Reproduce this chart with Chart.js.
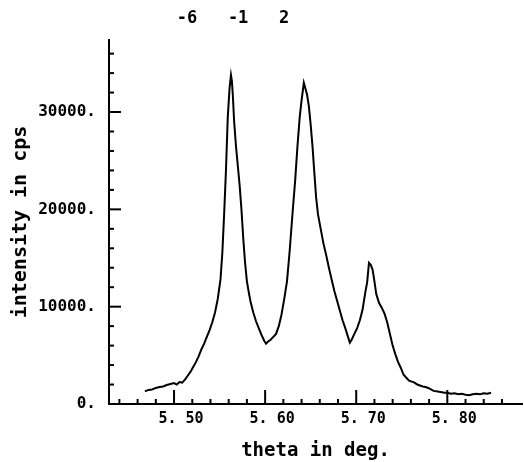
<!DOCTYPE html>
<html>
<head>
<meta charset="utf-8">
<script src="https://cdn.jsdelivr.net/npm/chart.js@4.4.0/dist/chart.umd.min.js"></script>
<style>
	html, body { margin: 0; padding: 0; background: #fff; }
</style>
</head>
<body>
<canvas id="scanChart" width="524" height="462"></canvas>
<script>
var thetaDeg = [5.468, 5.472, 5.476, 5.480, 5.484, 5.488, 5.492, 5.496, 5.500, 5.503, 5.506, 5.509, 5.512, 5.515, 5.518, 5.521, 5.524, 5.527, 5.530, 5.533, 5.536, 5.539, 5.542, 5.545, 5.548, 5.551, 5.553, 5.555, 5.557, 5.559, 5.561, 5.5625, 5.5635, 5.5645, 5.566, 5.568, 5.570, 5.572, 5.574, 5.576, 5.578, 5.580, 5.582, 5.584, 5.587, 5.590, 5.593, 5.596, 5.599, 5.601, 5.603, 5.606, 5.609, 5.612, 5.615, 5.618, 5.621, 5.624, 5.627, 5.630, 5.633, 5.6355, 5.638, 5.640, 5.6425, 5.644, 5.646, 5.648, 5.650, 5.652, 5.654, 5.656, 5.658, 5.661, 5.664, 5.667, 5.670, 5.673, 5.676, 5.679, 5.682, 5.685, 5.688, 5.691, 5.693, 5.695, 5.698, 5.701, 5.704, 5.707, 5.710, 5.712, 5.714, 5.716, 5.718, 5.720, 5.722, 5.725, 5.728, 5.731, 5.734, 5.737, 5.740, 5.743, 5.746, 5.749, 5.752, 5.755, 5.758, 5.761, 5.764, 5.767, 5.770, 5.773, 5.776, 5.779, 5.782, 5.785, 5.788, 5.791, 5.794, 5.797, 5.800, 5.804, 5.808, 5.812, 5.816, 5.820, 5.824, 5.828, 5.832, 5.836, 5.840, 5.844, 5.848];
var intensityCps = [1300, 1450, 1500, 1650, 1750, 1800, 1950, 2050, 2150, 2000, 2250, 2200, 2500, 2900, 3300, 3800, 4300, 4900, 5600, 6200, 6900, 7600, 8400, 9400, 10800, 12800, 15500, 19500, 24000, 29500, 32500, 33800, 33200, 31800, 29000, 26500, 24500, 22500, 20000, 17000, 14500, 12600, 11500, 10500, 9400, 8500, 7800, 7100, 6500, 6200, 6400, 6600, 6900, 7200, 8000, 9200, 10800, 12600, 15800, 19500, 23000, 26500, 29500, 31200, 33000, 32500, 31800, 30600, 28700, 26500, 23800, 21200, 19500, 18000, 16500, 15300, 14000, 12800, 11600, 10600, 9600, 8600, 7800, 6900, 6300, 6600, 7200, 7800, 8600, 9700, 11500, 12500, 14500, 14300, 13800, 12600, 11300, 10400, 9900, 9300, 8400, 7200, 6000, 5100, 4300, 3700, 3000, 2700, 2400, 2300, 2200, 2000, 1900, 1800, 1750, 1650, 1500, 1350, 1300, 1250, 1200, 1150, 1150, 1050, 1100, 1000, 1050, 950, 900, 1000, 1050, 1000, 1100, 1050, 1150];

var xMajorTicks = [5.50, 5.60, 5.70, 5.80];
var yMajorTicks = [0, 10000, 20000, 30000];
var peakLabels = ["-6", "-1", "2"];

var plotFont = "'DejaVu Sans Mono', monospace";

function isMajor(v, majors) {
	for (var i = 0; i < majors.length; i++) {
		if (Math.abs(v - majors[i]) < 1e-6) { return true; }
	}
	return false;
}

// minor tick positions, every 0.02 deg and every 2000 cps
function xTickList() {
	var list = [];
	for (var i = 0; i <= 21; i++) { list.push({ value: Math.round((5.44 + i * 0.02) * 100) / 100 }); }
	return list;
}
function yTickList() {
	var list = [];
	for (var i = 0; i <= 18; i++) { list.push({ value: i * 2000 }); }
	return list;
}

var points = thetaDeg.map(function(t, i) { return { x: t, y: intensityCps[i] }; });

// tick marks point inward like the plotter, plus the peak labels on top
var plotterMarks = {
	id: 'plotterMarks',
	afterDraw: function(chart) {
		var ctx = chart.ctx;
		var area = chart.chartArea;
		var xs = chart.scales.x;
		var ys = chart.scales.y;
		ctx.save();
		ctx.strokeStyle = '#000';
		ctx.lineWidth = 2;
		xs.ticks.forEach(function(t) {
			var px = xs.getPixelForValue(t.value);
			var len = isMajor(t.value, xMajorTicks) ? 14 : 5;
			ctx.beginPath();
			ctx.moveTo(px, area.bottom);
			ctx.lineTo(px, area.bottom - len);
			ctx.stroke();
		});
		ys.ticks.forEach(function(t) {
			var py = ys.getPixelForValue(t.value);
			var len = isMajor(t.value, yMajorTicks) ? 12 : 5;
			ctx.beginPath();
			ctx.moveTo(area.left, py);
			ctx.lineTo(area.left + len, py);
			ctx.stroke();
		});
		ctx.fillStyle = '#000';
		ctx.font = "bold 17px " + plotFont;
		ctx.textAlign = 'center';
		ctx.textBaseline = 'middle';
		ctx.fillText(peakLabels.join("   "), 233, 19);
		ctx.restore();
	}
};

var myChart = new Chart(document.getElementById("scanChart"), {
	type: 'scatter',
	data: {
		datasets: [{
			data: points,
			showLine: true,
			borderColor: '#000',
			borderWidth: 2,
			pointRadius: 0,
			tension: 0
		}]
	},
	options: {
		responsive: false,
		animation: false,
		events: [],
		layout: { padding: { top: 40, right: 2, bottom: 0, left: 0 } },
		plugins: {
			legend: { display: false },
			tooltip: { enabled: false }
		},
		scales: {
			x: {
				type: 'linear',
				min: 5.4286,
				max: 5.882,
				afterBuildTicks: function(scale) { scale.ticks = xTickList(); },
				afterFit: function(scale) { scale.height = 58; },
				grid: { display: false, drawTicks: false },
				border: { display: true, color: '#000', width: 2 },
				ticks: {
					autoSkip: false,
					maxRotation: 0,
					padding: 6,
					labelOffset: 7,
					color: '#000',
					font: { family: plotFont, size: 15, weight: 'bold' },
					callback: function(v) {
						if (!isMajor(v, xMajorTicks)) { return ''; }
						return v.toFixed(2).replace('.', '. ');
					}
				},
				title: {
					display: true,
					text: 'theta in deg.',
					color: '#000',
					font: { family: plotFont, size: 19, weight: 'bold' },
					padding: { top: 0, bottom: 0 }
				}
			},
			y: {
				type: 'linear',
				min: 0,
				max: 37400,
				afterBuildTicks: function(scale) { scale.ticks = yTickList(); },
				afterFit: function(scale) { scale.width = 109; },
				grid: { display: false, drawTicks: false },
				border: { display: true, color: '#000', width: 2 },
				ticks: {
					autoSkip: false,
					padding: 13,
					color: '#000',
					font: { family: plotFont, size: 16, weight: 'bold' },
					callback: function(v) {
						if (!isMajor(v, yMajorTicks)) { return ''; }
						return v + '.';
					}
				},
				title: {
					display: true,
					text: 'intensity in cps',
					color: '#000',
					font: { family: plotFont, size: 20, weight: 'bold' },
					padding: { top: 9, bottom: 0 }
				}
			}
		}
	},
	plugins: [plotterMarks]
});
</script>
</body>
</html>
